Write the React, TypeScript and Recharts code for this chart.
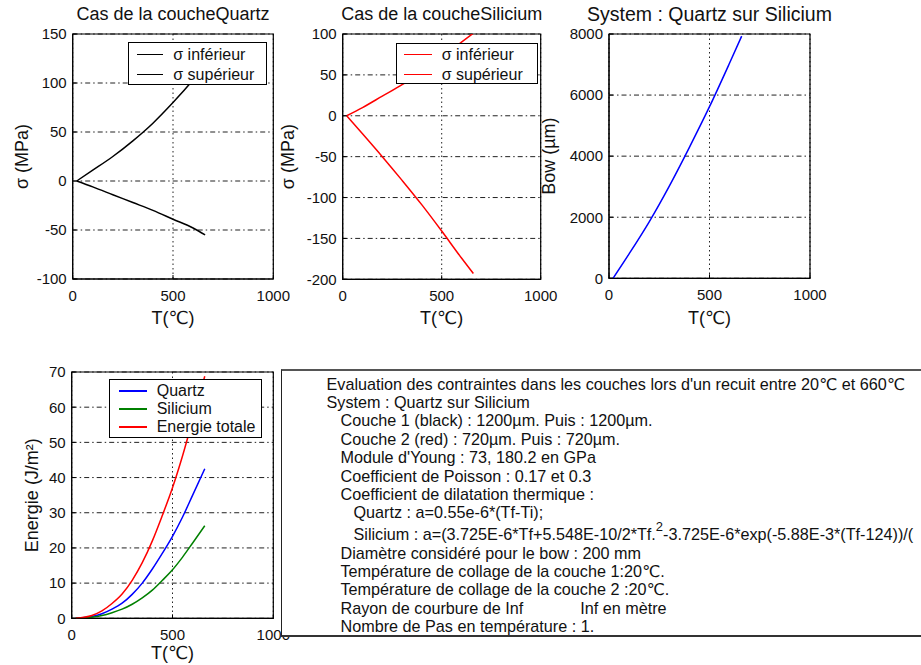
import { CartesianGrid, Line, LineChart, ReferenceArea, XAxis, YAxis } from "recharts";

// stress in each layer (MPa) vs temperature
const tempStress = [20, 100, 200, 300, 400, 500, 600, 660];
const quartzInf = [0, 11, 25, 41, 59, 80, 103, 118];
const quartzSup = [0, -6, -14, -22, -30, -39, -48, -55];
const siliciumInf = [0, 10, 24, 38, 55, 72, 90, 101];
const siliciumSup = [0, -22, -50, -79, -109, -141, -174, -193];

// bow of the stack (µm)
const tempBow = [20, 100, 200, 300, 400, 500, 600, 660];
const bowValues = [0, 800, 1850, 3020, 4290, 5620, 7050, 7930];

// stored energy (J/m²)
const tempEnergy = [20, 100, 150, 200, 250, 300, 350, 400, 450, 500, 550, 600, 660];
const energyQuartz = [0, 0.5, 1.3, 2.6, 4.3, 6.8, 10, 14, 18.5, 23.3, 28.8, 35, 42.5];
const energySilicium = [0, 0.3, 0.8, 1.6, 2.6, 4, 5.8, 8, 10.8, 13.8, 17.4, 21.4, 26.3];
const energyTotal = [0, 0.8, 2.1, 4.2, 6.9, 10.8, 15.8, 22, 29.3, 37.1, 46.2, 56.4, 68.8];

const tempTicks = [0, 500, 1000];
const stressQuartzTicks = [-100, -50, 0, 50, 100, 150];
const stressSiliciumTicks = [-200, -150, -100, -50, 0, 50, 100];
const bowTicks = [0, 2000, 4000, 6000, 8000];
const energyTicks = [0, 10, 20, 30, 40, 50, 60, 70];

const quartzData = tempStress.map((T, i) => ({ T, inf: quartzInf[i], sup: quartzSup[i] }));
const siliciumData = tempStress.map((T, i) => ({ T, inf: siliciumInf[i], sup: siliciumSup[i] }));
const bowData = tempBow.map((T, i) => ({ T, bow: bowValues[i] }));
const energyData = tempEnergy.map((T, i) => ({
  T,
  quartz: energyQuartz[i],
  silicium: energySilicium[i],
  total: energyTotal[i],
}));

const infoLines: { text: string; indent: number; sup?: [string, string, string]; gap?: [string, string] }[] = [
  { text: "Evaluation des contraintes dans les couches lors d'un recuit entre 20℃ et 660℃", indent: 0 },
  { text: "System : Quartz sur Silicium", indent: 0 },
  { text: "Couche 1 (black) : 1200µm. Puis : 1200µm.", indent: 1 },
  { text: "Couche 2 (red) : 720µm. Puis : 720µm.", indent: 1 },
  { text: "Module d'Young : 73, 180.2 en GPa", indent: 1 },
  { text: "Coefficient de Poisson : 0.17 et 0.3", indent: 1 },
  { text: "Coefficient de dilatation thermique :", indent: 1 },
  { text: "Quartz : a=0.55e-6*(Tf-Ti);", indent: 2 },
  {
    text: "",
    indent: 2,
    sup: ["Silicium : a=(3.725E-6*Tf+5.548E-10/2*Tf.", "2", "-3.725E-6*exp(-5.88E-3*(Tf-124))/("],
  },
  { text: "Diamètre considéré pour le bow : 200 mm", indent: 1 },
  { text: "Température de collage de la couche 1:20℃.", indent: 1 },
  { text: "Température de collage de la couche 2 :20℃.", indent: 1 },
  { text: "", indent: 1, gap: ["Rayon de courbure de Inf", "Inf en mètre"] },
  { text: "Nombre de Pas en température : 1.", indent: 1 },
];

type Series = { key: string; name: string; color: string };
type Box = { left: number; top: number; width: number; height: number };
type LegendCfg = Box & { lineLeft: number; lineWidth: number; gap: number; rowHeight: number; padTop: number };
type PanelCfg = {
  title?: string;
  titleSize?: number;
  frame: Box;
  plot: { left: number; top: number; right: number; bottom: number };
  data: Record<string, number>[];
  series: Series[];
  yDomain: [number, number];
  yTicks: number[];
  yLabel: string;
  yLabelX: number;
  clipY?: boolean;
  legend?: LegendCfg;
};

const FONT = "'Liberation Sans', Arial, 'DejaVu Sans', sans-serif";

// legend box drawn over the plot, as in the original figure
function LegendBox({ series, box, frame }: { series: Series[]; box: LegendCfg; frame: Box }) {
  return (
    <div
      style={{
        position: "absolute",
        left: box.left - frame.left,
        top: box.top - frame.top,
        width: box.width,
        height: box.height,
        boxSizing: "border-box",
        border: "1px solid #000",
        background: "#fff",
        paddingTop: box.padTop,
      }}
    >
      {series.map((s) => (
        <div key={s.key} style={{ position: "relative", height: box.rowHeight }}>
          <div
            style={{
              position: "absolute",
              left: box.lineLeft,
              top: box.rowHeight / 2 - 1,
              width: box.lineWidth,
              height: 1.5,
              background: s.color,
            }}
          />
          <div
            style={{
              position: "absolute",
              left: box.lineLeft + box.lineWidth + box.gap,
              top: 0,
              height: box.rowHeight,
              lineHeight: `${box.rowHeight}px`,
              fontSize: 16,
              color: "#111",
              whiteSpace: "nowrap",
            }}
          >
            {s.name}
          </div>
        </div>
      ))}
    </div>
  );
}

function Panel({ cfg }: { cfg: PanelCfg }) {
  const { frame, plot, legend } = cfg;
  return (
    <div style={{ position: "absolute", left: frame.left, top: frame.top }}>
      <LineChart
        width={frame.width}
        height={frame.height}
        data={cfg.data}
        margin={{ top: plot.top - frame.top, right: frame.left + frame.width - plot.right, bottom: 0, left: 0 }}
      >
        <CartesianGrid vertical={false} stroke="#222" strokeDasharray="5 3 1.5 3" />
        <CartesianGrid horizontal={false} stroke="#222" strokeDasharray="1.5 3" />
        <XAxis
          dataKey="T"
          type="number"
          domain={[0, 1000]}
          ticks={tempTicks}
          interval={0}
          height={frame.top + frame.height - plot.bottom}
          stroke="#000"
          tickSize={-4}
          tickMargin={15}
          tick={{ fontSize: 15, fill: "#111" }}
          label={{ value: "T(℃)", position: "insideBottom", offset: 6, fontSize: 18, fill: "#111" }}
        />
        <YAxis
          type="number"
          domain={cfg.yDomain}
          ticks={cfg.yTicks}
          interval={0}
          allowDataOverflow={cfg.clipY}
          width={plot.left - frame.left}
          stroke="#000"
          tickSize={-4}
          tickMargin={10}
          tick={{ fontSize: 15, fill: "#111" }}
          label={{
            value: cfg.yLabel,
            angle: -90,
            position: "insideLeft",
            offset: cfg.yLabelX - frame.left,
            fontSize: 18,
            fill: "#111",
            style: { textAnchor: "middle" },
          }}
        />
        <ReferenceArea
          x1={0}
          x2={1000}
          y1={cfg.yDomain[0]}
          y2={cfg.yDomain[1]}
          fill="none"
          stroke="#000"
          strokeWidth={1.2}
        />
        {cfg.series.map((s) => (
          <Line
            key={s.key}
            dataKey={s.key}
            name={s.name}
            type="monotone"
            stroke={s.color}
            strokeWidth={1.5}
            dot={false}
            isAnimationActive={false}
          />
        ))}
      </LineChart>
      {legend && <LegendBox series={cfg.series} box={legend} frame={frame} />}
      {cfg.title && (
        <div
          style={{
            position: "absolute",
            left: plot.left - frame.left - 80,
            width: plot.right - plot.left + 160,
            top: 4 - frame.top,
            textAlign: "center",
            fontSize: cfg.titleSize ?? 18,
            lineHeight: "20px",
            whiteSpace: "nowrap",
            color: "#111",
          }}
        >
          {cfg.title}
        </div>
      )}
    </div>
  );
}

const panels: PanelCfg[] = [
  {
    title: "Cas de la coucheQuartz",
    frame: { left: 0, top: 0, width: 290, height: 330 },
    plot: { left: 72.7, top: 34, right: 273.3, bottom: 279 },
    data: quartzData,
    series: [
      { key: "inf", name: "σ inférieur", color: "#000000" },
      { key: "sup", name: "σ supérieur", color: "#000000" },
    ],
    yDomain: [-100, 150],
    yTicks: stressQuartzTicks,
    yLabel: "σ (MPa)",
    yLabelX: 22,
    legend: { left: 128.3, top: 41.7, width: 139, height: 43.3, lineLeft: 8, lineWidth: 26, gap: 10, rowHeight: 20, padTop: 2.3 },
  },
  {
    title: "Cas de la coucheSilicium",
    frame: { left: 270, top: 0, width: 290, height: 330 },
    plot: { left: 342.7, top: 34, right: 540.7, bottom: 279.3 },
    data: siliciumData,
    series: [
      { key: "inf", name: "σ inférieur", color: "#ff0000" },
      { key: "sup", name: "σ supérieur", color: "#ff0000" },
    ],
    yDomain: [-200, 100],
    yTicks: stressSiliciumTicks,
    yLabel: "σ (MPa)",
    yLabelX: 287.5,
    clipY: true,
    legend: { left: 395.7, top: 42.7, width: 142, height: 41.5, lineLeft: 7.3, lineWidth: 27.7, gap: 10, rowHeight: 20, padTop: 1.3 },
  },
  {
    title: "System : Quartz sur Silicium",
    titleSize: 19.5,
    frame: { left: 530, top: 0, width: 300, height: 330 },
    plot: { left: 609, top: 34, right: 810, bottom: 278.3 },
    data: bowData,
    series: [{ key: "bow", name: "Bow", color: "#0000ff" }],
    yDomain: [0, 8000],
    yTicks: bowTicks,
    yLabel: "Bow (µm)",
    yLabelX: 549,
  },
  {
    frame: { left: 0, top: 340, width: 300, height: 325 },
    plot: { left: 71.7, top: 372, right: 273.3, bottom: 618.3 },
    data: energyData,
    series: [
      { key: "quartz", name: "Quartz", color: "#0000ff" },
      { key: "silicium", name: "Silicium", color: "#008000" },
      { key: "total", name: "Energie totale", color: "#ff0000" },
    ],
    yDomain: [0, 70],
    yTicks: energyTicks,
    yLabel: "Energie (J/m²)",
    yLabelX: 32,
    legend: { left: 109.3, top: 379, width: 152.4, height: 58.7, lineLeft: 9, lineWidth: 28, gap: 9.4, rowHeight: 18.2, padTop: 2 },
  },
];

function InfoBox() {
  return (
    <div
      style={{
        position: "absolute",
        left: 281,
        top: 369,
        width: 700,
        height: 268,
        boxSizing: "border-box",
        borderTop: "2px solid #555",
        borderLeft: "1.5px solid #222",
        borderBottom: "2px solid #333",
        background: "#fff",
        paddingTop: 3.6,
        paddingLeft: 44.5,
        fontSize: 16.2,
        color: "#111",
        whiteSpace: "nowrap",
      }}
    >
      {infoLines.map((l, i) => (
        <div
          key={i}
          style={{
            height: 18.4,
            lineHeight: "18.4px",
            paddingLeft: l.indent === 0 ? 0 : l.indent === 1 ? 14 : 27,
            marginTop: l.sup ? 3.6 : 0,
          }}
        >
          {l.sup ? (
            <>
              {l.sup[0]}
              <span style={{ fontSize: 13, position: "relative", top: -9 }}>{l.sup[1]}</span>
              {l.sup[2]}
            </>
          ) : l.gap ? (
            <>
              {l.gap[0]}
              <span style={{ display: "inline-block", marginLeft: 57 }}>{l.gap[1]}</span>
            </>
          ) : (
            l.text
          )}
        </div>
      ))}
    </div>
  );
}

export default function App() {
  return (
    <div
      style={{
        position: "absolute",
        left: 0,
        top: 0,
        width: 921,
        height: 665,
        overflow: "hidden",
        background: "#fff",
        fontFamily: FONT,
      }}
    >
      {panels.map((p, i) => (
        <Panel key={i} cfg={p} />
      ))}
      <InfoBox />
    </div>
  );
}
